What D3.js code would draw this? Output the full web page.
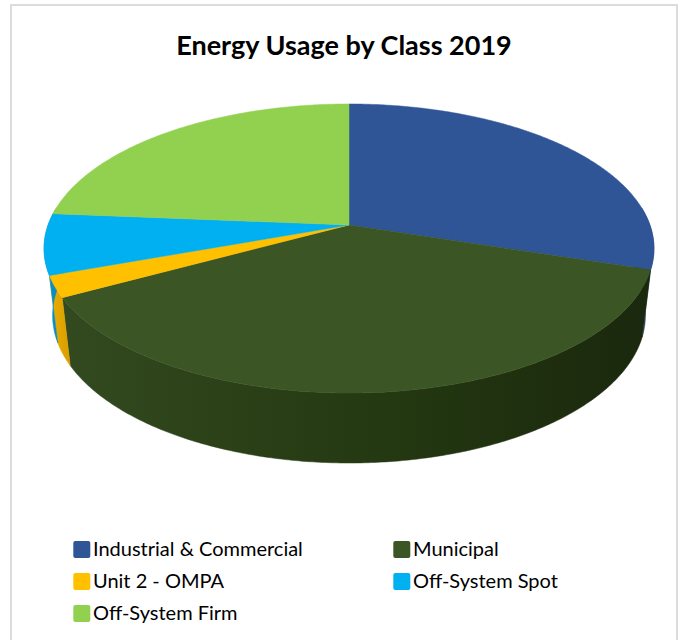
<!DOCTYPE html>
<html>
<head>
<meta charset="utf-8">
<script src="https://cdn.jsdelivr.net/npm/d3@7"></script>
<style>
  html, body { margin: 0; padding: 0; background: #fff; }
  svg { display: block; }
  text { font-family: Lato, "Noto Sans", sans-serif; fill: #000; }
</style>
</head>
<body>
<svg id="chart" width="679" height="640"></svg>
<script>
const categories = ["Industrial & Commercial", "Municipal", "Unit 2 - OMPA", "Off-System Spot", "Off-System Firm"];
const shares = [29.9, 37.2, 2.4, 6.8, 23.7];
const topColors = ["#2f5597", "#3b5624", "#ffc000", "#00b0f0", "#92d050"];
const wallFrom = ["#2b4f8c", "#33491f", "#ecae00", "#0a96cc", "#7db546"];
const wallMid = ["#264679", "#253a12", "#e2a600", "#0a8ec2", "#73a840"];
const wallTo = ["#1f3a68", "#1a280d", "#d89e00", "#0a86b8", "#6a9a3a"];
const chartTitle = "Energy Usage by Class 2019";

const svg = d3.select("#chart");

// Perspective projection of the pie disc: u/w and v/w are the flattened circle coordinates.
const tilt = 0.1626;
const cx = 349;
const topRim = { cy: 225, a: 300.9, b: 140.7, s: 1 };
const bottomRim = { cy: 291.4, a: 300.9, b: 143.7, s: 0.972 };

function project(angle, rim) {
  const u = Math.sin(angle);
  const v = -Math.cos(angle);
  const w = 1 - tilt * v;
  return [cx + rim.s * rim.a * u / w, rim.cy + rim.b * v / w];
}
function hub(rim) { return [cx, rim.cy]; }

const slices = d3.pie().sort(null).value(d => d)(shares);
const line = d3.line();
const defs = svg.append("defs");

// Sample an arc between two angles on the given rim.
function rimPoints(a0, a1, rim) {
  const n = Math.max(2, Math.ceil(Math.abs(a1 - a0) / 0.01));
  return d3.range(n + 1).map(i => project(a0 + (a1 - a0) * i / n, rim));
}

// Chart frame, open past the bottom of the page
svg.append("rect")
  .attr("x", 11).attr("y", 5)
  .attr("width", 666).attr("height", 650)
  .attr("fill", "#fff")
  .attr("stroke", "#dcdcdc").attr("stroke-width", 2);

// Side walls: only the part of each slice that faces the viewer.
const nearStart = Math.PI * 0.46;
const nearEnd = Math.PI * 1.54;
const walls = svg.append("g");
slices.forEach((d, i) => {
  const a0 = Math.max(d.startAngle, nearStart);
  const a1 = Math.min(d.endAngle, nearEnd);
  if (a1 <= a0) return;
  const upper = rimPoints(a0, a1, topRim);
  const lower = rimPoints(a0, a1, bottomRim).reverse();
  const xs = upper.concat(lower).map(p => p[0]);
  const grad = defs.append("linearGradient")
    .attr("id", "wall" + i)
    .attr("gradientUnits", "userSpaceOnUse")
    .attr("x1", d3.min(xs)).attr("x2", d3.max(xs))
    .attr("y1", 0).attr("y2", 0);
  grad.append("stop").attr("offset", 0).attr("stop-color", wallFrom[i]);
  grad.append("stop").attr("offset", 0.5).attr("stop-color", wallMid[i]);
  grad.append("stop").attr("offset", 1).attr("stop-color", wallTo[i]);
  walls.append("path")
    .attr("d", line(upper.concat(lower)) + "Z")
    .attr("fill", `url(#wall${i})`)
    .attr("stroke", `url(#wall${i})`)
    .attr("stroke-width", 0.5);
});

// Top faces
const faces = svg.append("g");
slices.forEach((d, i) => {
  const pts = [hub(topRim)].concat(rimPoints(d.startAngle, d.endAngle, topRim));
  faces.append("path")
    .attr("d", line(pts) + "Z")
    .attr("fill", topColors[i])
    .attr("stroke", topColors[i])
    .attr("stroke-width", 0.5);
});

// Title
svg.append("text")
  .attr("x", 344).attr("y", 55)
  .attr("text-anchor", "middle")
  .attr("font-size", 27)
  .attr("font-weight", 700)
  .text(chartTitle);

// Legend
const legendCols = d3.scaleOrdinal().domain([0, 1]).range([73.3, 393.3]);
const legendRows = d3.scaleBand().domain([0, 1, 2]).range([533, 629]);
const legend = svg.append("g");
categories.forEach((name, i) => {
  const col = i % 2;
  const row = Math.floor(i / 2);
  const g = legend.append("g")
    .attr("transform", `translate(${legendCols(col)},${legendRows(row)})`);
  g.append("rect")
    .attr("x", 0).attr("y", 8)
    .attr("width", 17).attr("height", 17)
    .attr("rx", 2)
    .attr("fill", topColors[i]);
  g.append("text")
    .attr("x", 19.7).attr("y", 23)
    .attr("font-size", 20)
    .text(name);
});
</script>
</body>
</html>
